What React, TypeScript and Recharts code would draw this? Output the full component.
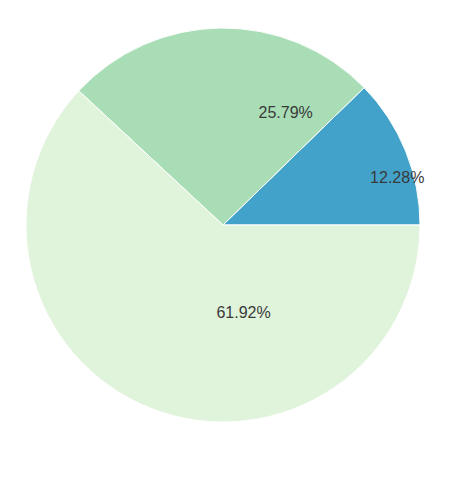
import React from 'react';
import { PieChart, Pie, Cell } from 'recharts';

// slice names and shares (%)
const categories: string[] = ['A', 'B', 'C'];
const shares: number[] = [12.28, 25.79, 61.92];
const colors: string[] = ['#43a2ca', '#a8ddb5', '#e0f3db'];

// where each percentage label sits: fraction of radius, angle shift from mid angle (deg)
const labelRadius: number[] = [0.917, 0.655, 0.456];
const labelShift: number[] = [-6.8, -29.7, 34.7];

const data = categories.map((name, i) => ({ name, value: shares[i] }));

const RADIAN = Math.PI / 180;

const renderLabel = (props: any) => {
  const { cx, cy, midAngle, outerRadius, index, value } = props;
  const r = outerRadius * labelRadius[index];
  const a = (midAngle + labelShift[index]) * RADIAN;
  const x = cx + r * Math.cos(a);
  const y = cy - r * Math.sin(a);
  return (
    <text
      x={x}
      y={y}
      fill="#3a3a3a"
      fontSize={16}
      fontFamily="'Liberation Sans', Arial, sans-serif"
      textAnchor="middle"
      dominantBaseline="central"
    >
      {`${value.toFixed(2)}%`}
    </text>
  );
};

const App: React.FC = () => {
  return (
    <div style={{ position: 'absolute', left: 0, top: 0, background: '#ffffff' }}>
      <PieChart width={474} height={487} margin={{ top: 0, right: 0, bottom: 0, left: 0 }}>
        <Pie
          data={data}
          dataKey="value"
          nameKey="name"
          cx={223}
          cy={225}
          outerRadius={197}
          startAngle={0}
          endAngle={360}
          stroke="#ffffff"
          strokeWidth={1}
          label={renderLabel}
          labelLine={false}
          isAnimationActive={false}
        >
          {data.map((entry, index) => (
            <Cell key={`cell-${index}`} fill={colors[index]} />
          ))}
        </Pie>
      </PieChart>
    </div>
  );
};

export default App;
